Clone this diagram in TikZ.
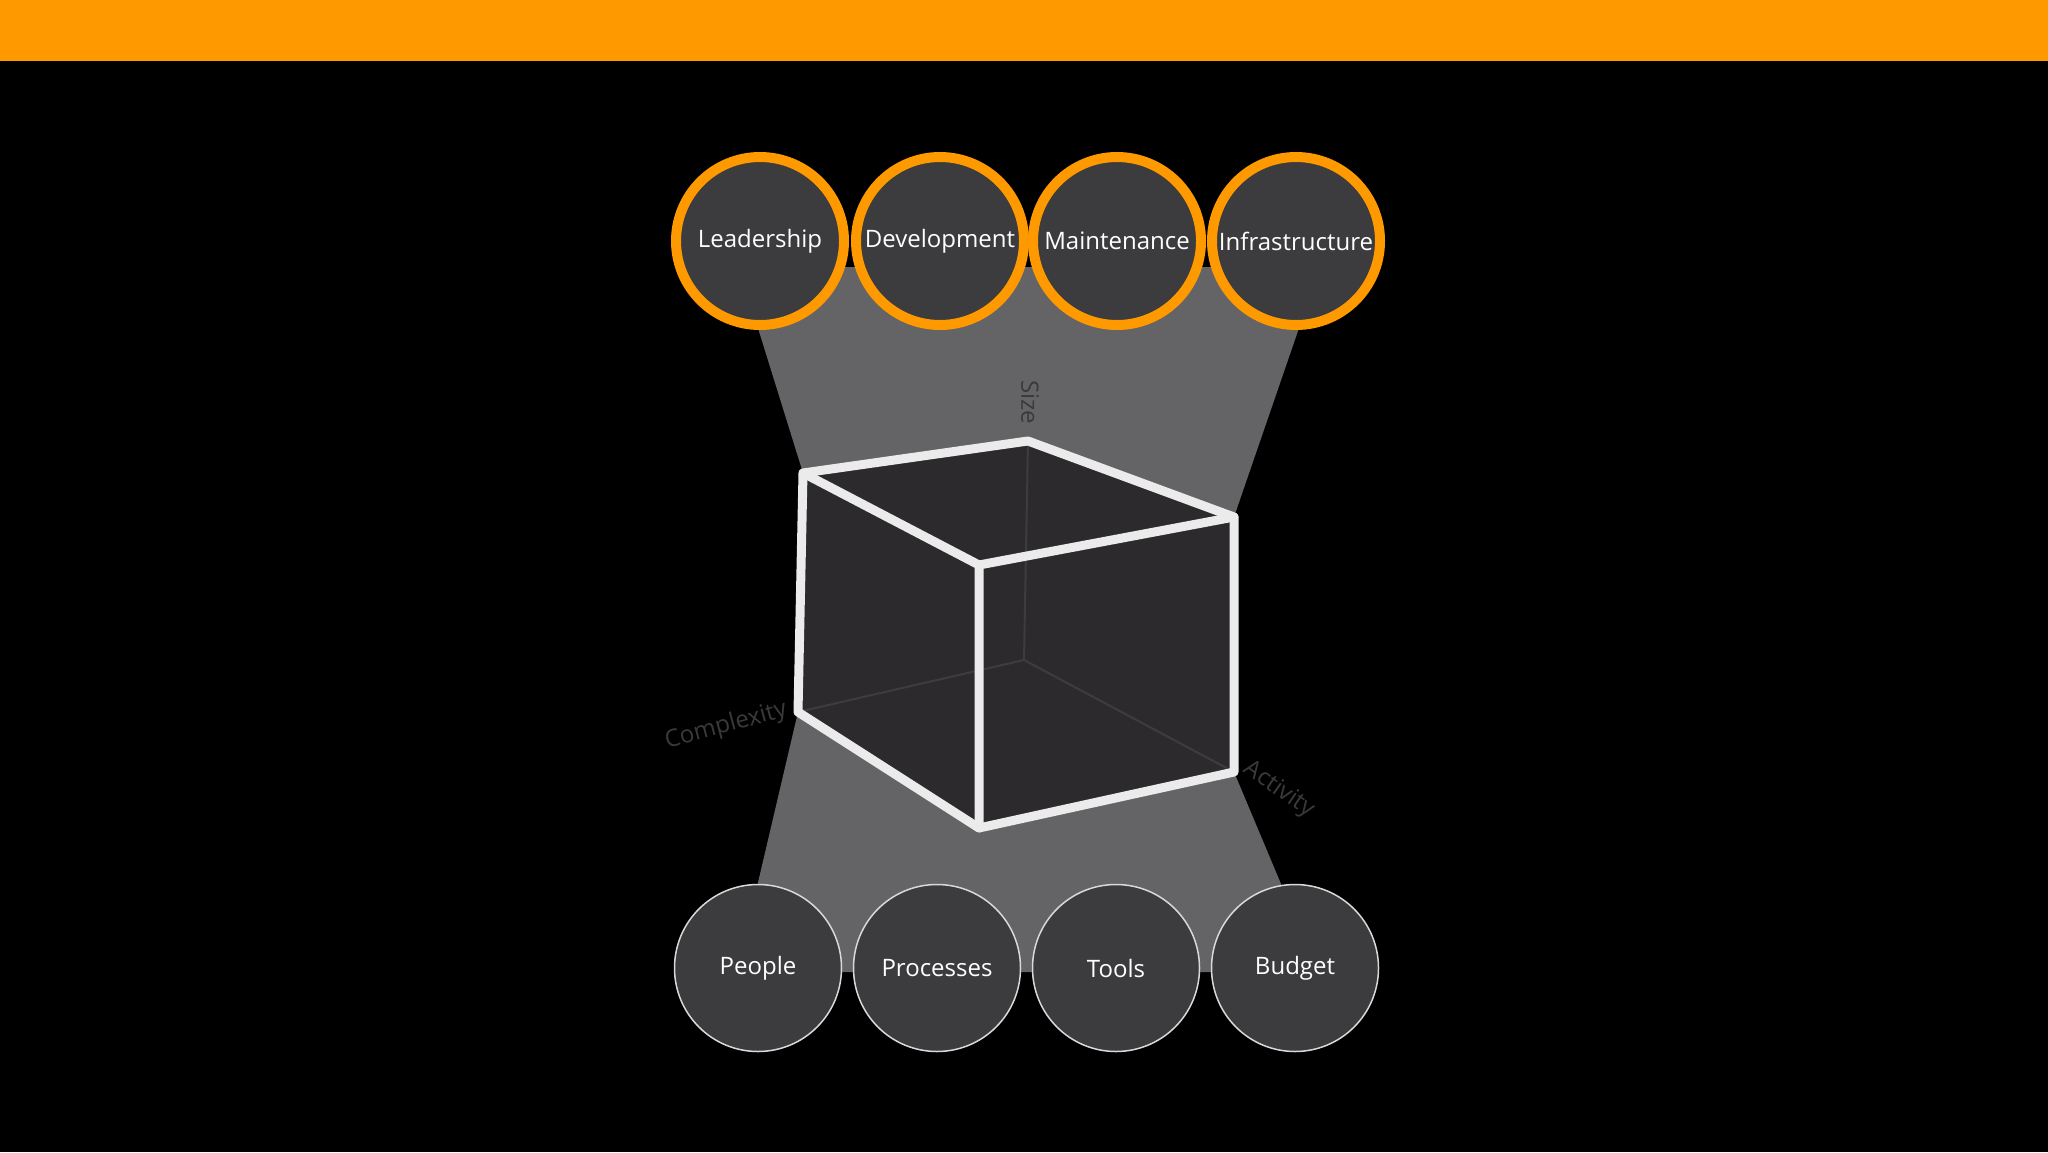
\documentclass[tikz,border=0pt]{standalone}
\usepackage{fontspec}
\setmainfont{Open Sans}
\definecolor{orng}{HTML}{FE9A00}
\definecolor{beam}{HTML}{646366}
\definecolor{face}{HTML}{2C2A2D}
\definecolor{disc}{HTML}{3C3B3D}
\definecolor{axis}{HTML}{3A393B}
\definecolor{hid}{HTML}{3E3C40}
\tikzset{
  topc/.style={circle,minimum size=168pt,inner sep=0pt,fill=disc,draw=orng,line width=10pt,text=white,font=\fontsize{24}{28}\selectfont},
  botc/.style={circle,minimum size=167pt,inner sep=0pt,fill=disc,draw=black!15,line width=1.5pt,text=white,font=\fontsize{24}{28}\selectfont},
  edge/.style={draw=white!92!black,line width=9pt,line join=round,line cap=round},
  hidden/.style={draw=hid,line width=2pt},
  axlabel/.style={text=axis,font=\fontsize{24}{28}\selectfont}
}
\begin{document}
\begin{tikzpicture}[x=1pt,y=-1pt]
\useasboundingbox (0,0) rectangle (2048,1152);
\fill[black] (0,0) rectangle (2048,1152);
\fill[orng] (0,0) rectangle (2048,61);
% cube vertices
\coordinate (A) at (803,473);
\coordinate (T) at (1028,441);
\coordinate (R) at (1234,517);
\coordinate (F) at (979,565);
\coordinate (BL) at (798,712);
\coordinate (FB) at (979,828);
\coordinate (BR) at (1234,772);
\coordinate (H) at (1024,660);
% beams
\fill[beam] (739,267) -- (1320,267) -- (R) -- (T) -- (A) -- cycle;
\fill[beam] (BL) -- (FB) -- (BR) -- (1318,972) -- (737,972) -- cycle;
% faces
\fill[face] (A) -- (T) -- (R) -- (BR) -- (FB) -- (BL) -- cycle;
\draw[hidden] (T) -- (H) (H) -- (BL) (H) -- (BR);
\draw[edge] (A) -- (T) -- (R) -- (BR) -- (FB) -- (BL) -- cycle;
\draw[edge] (A) -- (F) -- (R) (F) -- (FB);
% axis labels
\node[axlabel,rotate=-90] (size) at (1030,402) {Size};
\node[axlabel,rotate=15] (cplx) at (726,726) {Complexity};
\node[axlabel,rotate=-35] (act) at (1279,790) {Activity};
% circles
\node[topc] (lead) at (760,241) {Leadership};
\node[topc] (dev) at (940,241) {Development};
\node[topc] (mnt) at (1117,241) {Maintenance};
\node[topc] (infra) at (1296,241) {Infrastructure};
\node[botc] (ppl) at (758,968) {People};
\node[botc] (proc) at (937,968) {Processes};
\node[botc] (tools) at (1116,968) {Tools};
\node[botc] (bud) at (1295,968) {Budget};
\end{tikzpicture}
\end{document}
